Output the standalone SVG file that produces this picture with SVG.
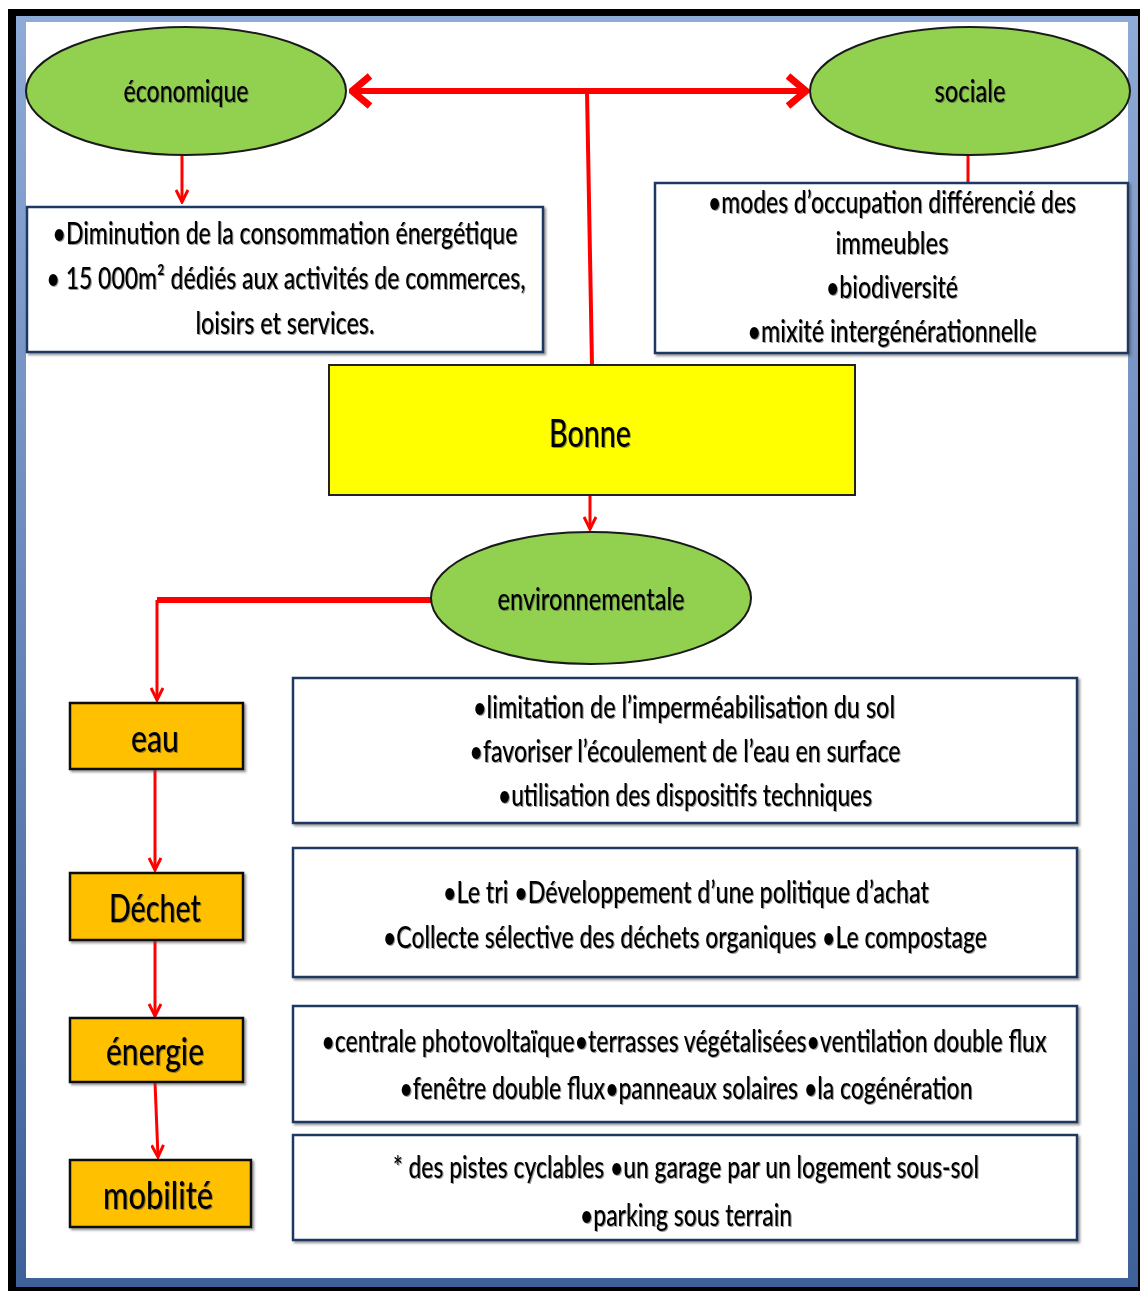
<svg xmlns="http://www.w3.org/2000/svg" width="1140" height="1291" viewBox="0 0 1140 1291">
<style>
.t{font-family:Lato,"Liberation Sans",sans-serif;fill:#000;text-anchor:middle;dominant-baseline:central;font-size:30px;font-weight:500;filter:url(#ts)}
.big{font-size:38px}
.ell{fill:#92d050;stroke:#1a1a1a;stroke-width:2}
.box{fill:#fff;stroke:#1f3864;stroke-width:2.5;filter:url(#sh)}
.org{fill:#ffc000;stroke:#111;stroke-width:2.5;filter:url(#sh)}
.yel{fill:#ffff00;stroke:#222;stroke-width:2}
.c{fill:none;stroke:#ff0000;stroke-width:3}
.cb{fill:none;stroke:#ff0000;stroke-width:6}
</style>
<defs>
<linearGradient id="fr" x1="0" y1="0" x2="0" y2="1">
<stop offset="0" stop-color="#8eaad6"/>
<stop offset="1" stop-color="#3f6199"/>
</linearGradient>
<filter id="sh" x="-5%" y="-5%" width="110%" height="120%">
<feDropShadow dx="2" dy="2" stdDeviation="1" flood-color="#555" flood-opacity="0.6"/>
</filter>
<filter id="ts" x="-5%" y="-20%" width="110%" height="140%">
<feDropShadow dx="1" dy="1" stdDeviation="0.6" flood-color="#333" flood-opacity="0.5"/>
</filter>
<marker id="a" markerUnits="userSpaceOnUse" viewBox="0 0 16 14" refX="14" refY="7" markerWidth="16" markerHeight="14" orient="auto">
<path d="M2,1 L14,7 L2,13" fill="none" stroke="#ff0000" stroke-width="3"/>
</marker>
<marker id="ab" markerUnits="userSpaceOnUse" viewBox="0 0 24 36" refX="21" refY="18" markerWidth="24" markerHeight="36" orient="auto">
<path d="M3,3 L21,18 L3,33" fill="none" stroke="#ff0000" stroke-width="7"/>
</marker>
</defs>
<g id="frame">
<rect x="8" y="9" width="1132" height="1282" fill="#000"/>
<rect x="16" y="16" width="1122" height="1271" fill="url(#fr)"/>
<rect x="26" y="22" width="1102" height="1256" fill="#fff"/>
</g>
<g id="connectors">
<path class="cb" d="M588,91 L352,91" marker-end="url(#ab)"/>
<path class="cb" d="M588,91 L806,91" marker-end="url(#ab)"/>
<path class="c" style="stroke-width:4" d="M587,91 L592,365"/>
<path class="c" d="M182,155 L182,202" marker-end="url(#a)"/>
<path class="c" d="M968,155 L968,183"/>
<path class="c" d="M590,495 L590,529" marker-end="url(#a)"/>
<path class="cb" d="M433,600 L157,600"/>
<path class="c" d="M157,600 L157,700" marker-end="url(#a)"/>
<path class="c" d="M155,769 L155,870" marker-end="url(#a)"/>
<path class="c" d="M155,940 L155,1016" marker-end="url(#a)"/>
<path class="c" d="M155,1082 L158,1157" marker-end="url(#a)"/>
</g>
<g id="economique">
<ellipse class="ell" cx="186" cy="91" rx="160" ry="64"/>
<text class="t" x="186" y="90" textLength="125" lengthAdjust="spacingAndGlyphs">économique</text>
</g>
<g id="sociale">
<ellipse class="ell" cx="970" cy="91" rx="160" ry="64"/>
<text class="t" x="970" y="90" textLength="71" lengthAdjust="spacingAndGlyphs">sociale</text>
</g>
<g id="eco-box">
<rect class="box" x="27" y="207" width="516" height="145"/>
<text class="t" x="285" y="232" textLength="465" lengthAdjust="spacingAndGlyphs">•Diminution de la consommation énergétique</text>
<text class="t" x="286" y="277" textLength="479" lengthAdjust="spacingAndGlyphs">•  15 000m² dédiés aux activités de commerces,</text>
<text class="t" x="285" y="322" textLength="179" lengthAdjust="spacingAndGlyphs">loisirs et services.</text>
</g>
<g id="soc-box">
<rect class="box" x="655" y="183" width="473" height="170"/>
<text class="t" x="892" y="201" textLength="368" lengthAdjust="spacingAndGlyphs">•modes d’occupation  différencié des</text>
<text class="t" x="892" y="242" textLength="113" lengthAdjust="spacingAndGlyphs">immeubles</text>
<text class="t" x="892" y="286" textLength="132" lengthAdjust="spacingAndGlyphs">•biodiversité</text>
<text class="t" x="892" y="330" textLength="289" lengthAdjust="spacingAndGlyphs">•mixité intergénérationnelle</text>
</g>
<g id="bonne">
<rect class="yel" x="329" y="365" width="526" height="130"/>
<text class="t big" x="590" y="432" textLength="82" lengthAdjust="spacingAndGlyphs">Bonne</text>
</g>
<g id="environnementale">
<ellipse class="ell" cx="591" cy="598" rx="160" ry="66"/>
<text class="t" x="591" y="598" textLength="187" lengthAdjust="spacingAndGlyphs">environnementale</text>
</g>
<g id="eau">
<rect class="org" x="70" y="703" width="173" height="66"/>
<text class="t big" x="155" y="737" textLength="48" lengthAdjust="spacingAndGlyphs">eau</text>
</g>
<g id="dechet">
<rect class="org" x="70" y="873" width="173" height="67"/>
<text class="t big" x="155" y="907" textLength="92" lengthAdjust="spacingAndGlyphs">Déchet</text>
</g>
<g id="energie">
<rect class="org" x="70" y="1018" width="173" height="64"/>
<text class="t big" x="155" y="1050" textLength="98" lengthAdjust="spacingAndGlyphs">énergie</text>
</g>
<g id="mobilite">
<rect class="org" x="70" y="1160" width="181" height="67"/>
<text class="t big" x="158" y="1194" textLength="110" lengthAdjust="spacingAndGlyphs">mobilité</text>
</g>
<g id="eau-box">
<rect class="box" x="293" y="678" width="784" height="145"/>
<text class="t" x="684" y="706" textLength="422" lengthAdjust="spacingAndGlyphs">•limitation de l’imperméabilisation du sol</text>
<text class="t" x="685" y="750" textLength="431" lengthAdjust="spacingAndGlyphs">•favoriser l’écoulement de l’eau en surface</text>
<text class="t" x="685" y="794" textLength="374" lengthAdjust="spacingAndGlyphs">•utilisation des dispositifs techniques</text>
</g>
<g id="dechet-box">
<rect class="box" x="293" y="848" width="784" height="129"/>
<text class="t" x="686" y="891" textLength="486" lengthAdjust="spacingAndGlyphs">•Le tri  •Développement d’une politique  d’achat</text>
<text class="t" x="685" y="936" textLength="604" lengthAdjust="spacingAndGlyphs">•Collecte sélective des déchets organiques   •Le compostage</text>
</g>
<g id="energie-box">
<rect class="box" x="293" y="1006" width="784" height="116"/>
<text class="t" x="684" y="1040" textLength="725" lengthAdjust="spacingAndGlyphs">•centrale photovoltaïque•terrasses végétalisées•ventilation double flux</text>
<text class="t" x="686" y="1087" textLength="573" lengthAdjust="spacingAndGlyphs">•fenêtre double flux•panneaux solaires •la cogénération</text>
</g>
<g id="mobilite-box">
<rect class="box" x="293" y="1135" width="784" height="105"/>
<text class="t" x="686" y="1166" textLength="586" lengthAdjust="spacingAndGlyphs">* des pistes cyclables •un garage par un logement sous-sol</text>
<text class="t" x="686" y="1214" textLength="212" lengthAdjust="spacingAndGlyphs">•parking sous terrain</text>
</g>
</svg>
